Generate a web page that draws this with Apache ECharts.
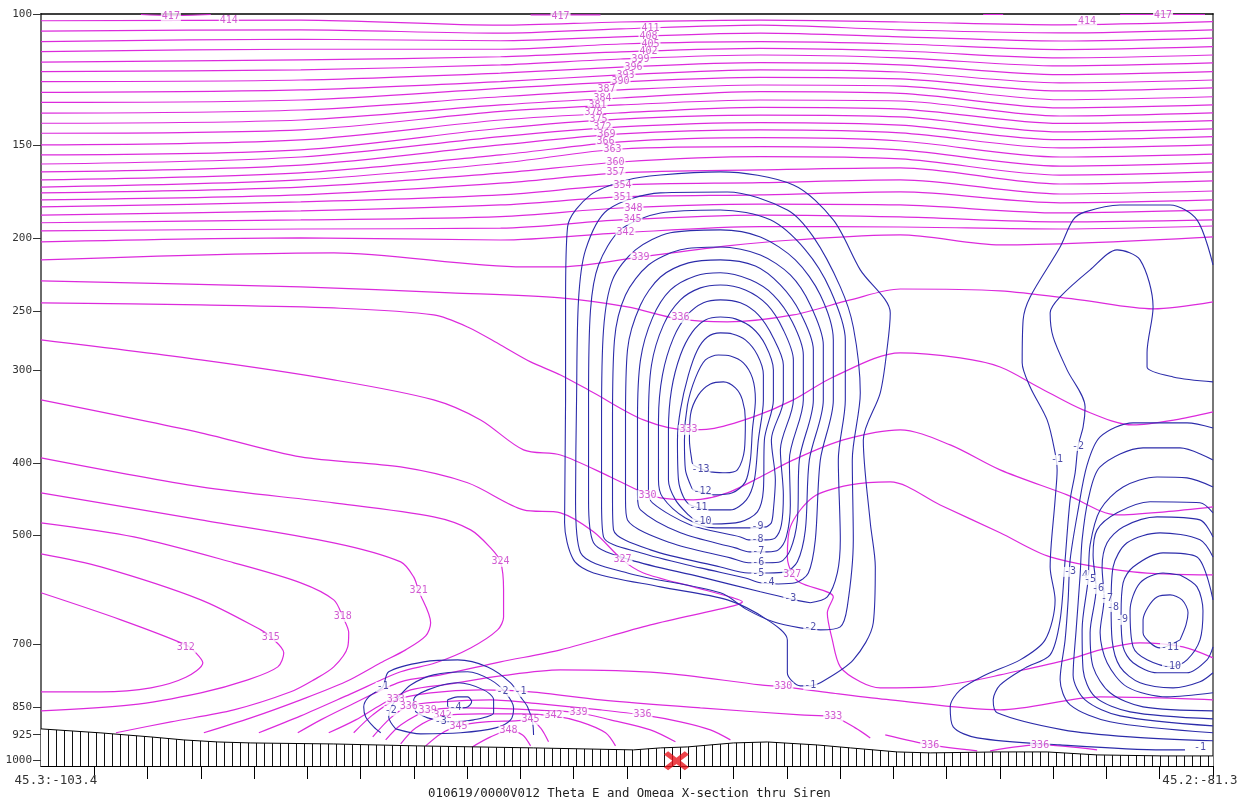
<!DOCTYPE html>
<html><head><meta charset="utf-8">
<script src="https://cdn.jsdelivr.net/npm/echarts@6/dist/echarts.min.js"></script>
<style>html,body{margin:0;padding:0;background:#fff}#c{width:1246px;height:797px}</style>
</head><body><div id="c"></div><script>
// ---------- axes ----------
const xTicks = [1,2,3,4,5,6,7,8,9,10,11,12,13,14,15,16,17,18,19,20,21,22];
const pressureTicks = [100,150,200,250,300,400,500,700,850,925,1000];
const endLabels = ['45.3:-103.4','45.2:-81.3'];
const endLabelPos = [0.281, 21.756];
const titleText = '010619/0000V012 Theta E and Omega X-section thru Siren';

// ---------- terrain (surface pressure, hPa) ----------
const terrainX = [0,1.125,2.063,2.682,3.320,3.939,5.495,7.071,9.246,11.122,11.628,12.135,12.997,13.635,14.573,15.192,16.073,16.692,17.949,18.886,19.824,21.062,22];
const terrainP = [908.7,920,931.6,940.2,946.1,949.0,952.0,957.7,963.6,969.6,963.6,960.7,949.0,946.1,954.9,963.6,975.7,978.6,975.7,975.7,984.7,987.8,987.8];
const siteX = 11.928, siteP = 1002.9;

// ---------- theta-E upper family: pressure at fixed section positions ----------
const topX = [0,4.876,8.627,10.878,13.503,16.129,19.130,22];
const theta414 = [102.1,101.9,103.5,102.5,101.9,102.5,103.4,102.4];
const theta411 = [105.4,105.0,106.1,104.7,103.5,105.0,106.0,105.0];
const theta408 = [108.9,108.1,108.6,107.3,106.1,107.3,108.7,107.7];
const theta405 = [112.3,111.5,111.5,109.7,108.9,109.7,111.6,110.6];
const theta402 = [116.0,115.2,114.1,112.4,111.2,112.1,114.5,113.5];
const theta399 = [119.5,118.8,117.0,114.9,113.5,114.5,117.4,116.3];
const theta396 = [123.2,122.6,120.0,117.8,116.2,117.0,120.6,119.5];
const theta393 = [127.4,126.4,123.2,120.7,118.8,119.6,123.7,122.6];
const theta390 = [131.4,130.4,125.8,123.3,121.6,122.2,126.8,125.6];
const theta387 = [135.8,134.5,129.1,126.4,124.5,124.9,130.3,129.1];
const theta384 = [140.1,138.7,132.4,129.6,127.1,127.8,133.6,132.4];
const theta381 = [144.5,143.0,135.1,132.4,130.4,130.8,137.0,135.7];
const theta378 = [149.8,147.5,138.7,135.7,133.4,134.1,140.2,139.0];
const theta375 = [154.5,152.1,142.3,138.3,136.6,137.4,143.9,142.6];
const theta372 = [158.9,155.5,146.0,141.7,139.8,140.9,147.4,146.0];
const theta369 = [162.8,159.4,149.8,144.8,143.0,144.3,151.2,149.8];
const theta366 = [166.9,163.3,154.5,148.4,146.5,148.0,155.5,154.1];
const theta363 = [170.6,166.9,158.5,151.7,150.6,152.1,159.9,158.3];
const theta360 = [173.7,170.6,163.4,157.9,155.3,156.4,164.4,162.8];
const theta357 = [177.5,174.8,168.6,163.3,161.8,160.8,169.0,167.4];
const theta354 = [181.4,178.6,174.8,169.5,168.3,166.9,174.3,172.7];
const theta351 = [186.0,183.6,180.3,175.9,174.8,173.2,179.1,177.5];
const theta348 = [190.5,188.8,186.9,182.0,179.8,180.3,184.8,183.1];
const theta345 = [195.3,194.2,193.7,188.8,186.0,187.1,190.0,188.8];
const theta342 = [202.1,199.6,200.9,196.5,192.8,193.0,194.2,192.4];

// ---------- theta-E other contours: [position, hPa] ----------
const theta417a = [[1.876,100.15],[2.438,100.5],[3.188,100.15]];
const theta417b = [[9.190,100.3],[10.503,100.3]];
const theta417c = [[17.686,100.15],[18.061,100.15]];
const theta417d = [[20.256,100.15],[21.850,100.15]];
const theta339 = [[0,213.6],[5.495,209.0],[9.058,218.3],[9.752,218.3],[11.253,211.7],[12.884,204.6],[14.122,200.9],[16.129,197.8],[18.004,204.0],[22,199.0]];
const theta336 = [[0,227.9],[4.876,232.2],[7.689,236.5],[9.752,240.2],[11.009,247.0],[11.966,256.3],[12.884,258.7],[14.122,253.2],[15.191,241.7],[16.129,233.7],[18.004,235.1],[19.505,241.7],[20.874,248.5],[22,243.2]];
const theta333 = [[0,243.9],[3.001,245.5],[5.495,247.8],[7.371,253.2],[8.008,262.8],[8.627,277.8],[9.190,292.7],[9.752,304.7],[10.371,322.0],[11.309,350.1],[12.134,361.0],[12.566,360.0],[13.372,346.9],[14.122,329.1],[14.872,306.6],[16.129,284.6],[17.254,289.1],[18.004,297.3],[18.755,317.2],[19.561,339.4],[20.499,355.6],[21.287,350.1],[22,341.5]];
const theta330 = [[0,273.5],[3.001,290.9],[5.495,309.4],[7.371,329.1],[8.252,350.1],[9.058,384.0],[9.752,390.1],[10.690,417.5],[11.196,434.5],[11.628,445.4],[12.247,448.1],[12.884,438.5],[13.503,417.5],[14.122,396.1],[15.060,372.4],[16.129,361.0],[17.067,378.2],[18.004,408.5],[19.261,441.3],[20.199,469.4],[21.099,465.0],[22,458.0]];
const theta327a = [[0,329.1],[3.001,364.3],[4.876,392.5],[6.752,404.8],[8.008,425.1],[9.058,462.2],[9.752,466.4],[10.371,494.6],[10.915,539.3],[11.309,561.5],[12.247,586.2],[12.997,606.5],[13.166,613.9],[12.997,621.7],[11.440,659.2],[9.752,712.0],[8.627,738.8],[7.502,769.2],[6.752,785.8],[5.814,843.9],[5.251,883.7],[4.820,919.7]];
const theta327b = [[22,565.0],[20.499,559.6],[18.942,534.4],[18.004,496.1],[16.879,455.2],[15.941,423.9],[15.191,427.9],[14.497,444.1],[14.066,487.1],[14.010,534.4],[14.103,563.2],[14.254,578.8],[14.872,604.6],[14.760,635.0],[14.854,690.4],[15.004,750.4],[15.379,785.8],[15.754,800.7],[16.692,798.2],[17.573,781.1],[18.004,769.2],[19.261,734.3],[19.880,712.0],[20.630,696.6],[21.437,705.5],[22,729.9]];
const theta324 = [[0,393.7],[3.001,430.6],[5.495,452.2],[7.371,472.3],[8.065,491.6],[8.440,519.7],[8.627,542.6],[8.683,591.6],[8.683,643.1],[8.571,669.4],[8.065,707.7],[7.408,741.0],[6.752,761.9],[5.814,815.7],[4.876,873.0],[4.089,919.7]];
const theta321 = [[0,438.5],[3.001,476.7],[5.495,511.6],[6.752,542.6],[6.995,568.4],[7.089,593.4],[7.314,654.9],[7.221,682.0],[6.845,712.0],[6.377,741.0],[5.720,785.8],[4.876,830.8],[3.939,878.4],[3.057,919.7]];
const theta318 = [[0,481.0],[1.744,502.4],[3.620,544.2],[4.876,578.9],[5.495,610.2],[5.664,643.1],[5.776,675.5],[5.758,705.5],[5.495,750.4],[5.120,781.1],[4.689,810.4],[3.620,856.9],[2.438,889.1],[1.407,919.7]];
const theta315 = [[0,529.5],[1.125,551.2],[3.001,610.2],[4.126,669.4],[4.314,684.1],[4.557,718.5],[4.445,750.4],[3.882,781.1],[3.001,812.9],[1.688,843.9],[0,859.5]];
const theta312 = [[0,597.0],[1.500,649.0],[2.719,701.2],[2.907,718.5],[3.038,741.0],[2.719,775.0],[2.063,800.7],[1.125,810.4],[0,810.4]];
const theta330b = [[5.401,919.7],[5.908,883.7],[6.377,843.9],[6.939,805.6],[7.689,790.9],[8.627,771.6],[9.752,757.3],[11.628,764.2],[13.503,793.4],[13.935,798.2],[14.816,812.9],[15.941,830.8],[18.004,856.9],[19.880,823.3],[21.005,825.8],[22,830.8]];
const theta333b = [[5.870,919.7],[6.227,870.3],[6.658,830.8],[7.314,812.9],[8.252,805.6],[9.190,810.4],[10.503,830.8],[12.378,851.7],[14.254,870.3],[14.872,875.7],[15.285,905.9],[15.566,934.3]];
const theta336b = [[6.227,931.4],[6.564,878.4],[6.902,846.5],[7.502,835.8],[8.440,830.8],[9.377,841.3],[10.503,856.9],[11.290,870.3],[12.003,889.1],[12.566,911.4],[12.941,940.0]];
const theta339b = [[6.470,940.0],[6.752,897.6],[7.258,859.5],[7.877,851.7],[8.815,854.3],[9.565,859.5],[10.090,864.6],[10.690,883.7],[11.440,911.4],[11.909,945.7]];
const theta342b = [[6.752,951.8],[7.033,905.9],[7.539,873.0],[8.252,867.6],[9.002,867.6],[9.621,873.0],[10.128,889.1],[10.597,919.7],[10.784,957.7]];
const theta345b = [[7.221,957.7],[7.502,922.9],[7.839,900.4],[8.346,889.1],[8.908,886.4],[9.190,883.7],[9.377,905.9],[9.527,945.7]];
const theta348b = [[8.065,963.6],[8.440,931.4],[8.777,914.2],[9.040,925.7],[9.190,957.7]];
const theta336c = [[15.848,925.7],[16.692,954.8],[17.573,972.4]];
const theta336d = [[17.817,972.4],[18.755,954.8],[19.824,969.5]];

// ---------- omega contours: centre system ----------
const omegaC1 = [[14.441,795.8],[14.629,788.2],[15.248,734.3],[15.623,654.9],[15.661,551.2],[15.567,481.0],[15.436,372.4],[15.754,322.0],[15.886,279.5],[15.942,251.6],[15.379,220.3],[14.873,188.8],[14.123,169.5],[12.754,162.8],[11.628,164.4],[11.009,166.9],[10.315,174.8],[9.884,193.0],[9.847,241.7],[9.847,329.1],[9.828,481.0],[9.997,539.3],[10.372,561.5],[11.628,586.2],[12.885,610.2],[13.635,649.0],[14.010,690.4],[14.010,764.2],[14.254,795.8],[14.441,795.8]];
const omegaC2 = [[14.629,669.4],[15.004,663.3],[15.135,623.6],[15.248,507.0],[15.229,396.1],[15.379,322.0],[15.248,262.8],[15.004,232.2],[14.498,199.0],[14.010,183.1],[12.885,173.2],[11.628,173.7],[10.634,183.1],[10.222,207.1],[10.090,241.7],[10.053,329.1],[10.034,448.1],[10.128,527.7],[11.009,561.5],[12.754,597.0],[13.260,629.3],[13.748,653.0],[14.254,665.3],[14.629,669.4]];
const omegaC3 = [[14.441,615.7],[14.760,604.6],[14.948,561.5],[15.004,507.0],[14.967,396.1],[15.098,329.1],[15.098,273.5],[14.817,234.4],[14.348,207.1],[13.691,188.8],[12.754,183.1],[11.628,184.8],[10.878,194.7],[10.465,217.0],[10.315,249.3],[10.278,329.1],[10.278,448.1],[10.372,511.6],[11.066,539.3],[12.378,568.4],[13.504,595.2],[14.066,608.3],[14.441,615.7]];
const omegaC4 = [[13.841,580.9],[14.160,578.9],[14.404,561.5],[14.535,507.0],[14.629,396.1],[14.873,329.1],[14.873,273.5],[14.629,238.1],[14.160,213.6],[13.504,199.0],[12.754,194.7],[11.816,196.5],[11.159,207.1],[10.728,227.2],[10.559,265.2],[10.522,350.1],[10.522,448.1],[10.559,502.4],[11.253,527.7],[12.378,552.8],[13.222,570.2],[13.504,578.9],[13.841,580.9]];
const omegaC5 = [[13.654,561.5],[13.973,559.6],[14.198,542.6],[14.348,491.6],[14.423,396.1],[14.685,329.1],[14.685,277.8],[14.441,245.5],[14.066,223.8],[13.504,210.4],[12.754,205.3],[12.003,207.1],[11.403,217.0],[10.972,238.1],[10.765,273.5],[10.728,350.1],[10.728,448.1],[10.747,491.6],[11.441,522.9],[12.754,551.2],[13.279,561.5],[13.654,561.5]];
const omegaC6 = [[13.654,544.2],[13.879,542.6],[14.066,522.9],[14.198,476.7],[14.235,396.1],[14.498,329.1],[14.498,282.1],[14.254,251.6],[13.879,230.8],[13.410,217.7],[12.754,213.6],[12.153,215.6],[11.628,225.2],[11.253,245.5],[11.009,282.1],[10.972,350.1],[10.972,448.1],[11.009,476.7],[11.816,511.6],[12.941,536.0],[13.279,544.2],[13.654,544.2]];
const omegaC7 = [[13.635,526.1],[13.841,522.9],[13.991,502.4],[14.066,455.2],[14.048,396.1],[14.310,329.1],[14.310,286.5],[14.104,258.7],[13.748,238.1],[13.316,227.2],[12.754,222.3],[12.285,224.5],[11.816,234.4],[11.478,255.5],[11.253,290.9],[11.197,350.1],[11.197,441.3],[11.253,462.2],[12.003,496.1],[13.035,519.7],[13.298,526.1],[13.635,526.1]];
const omegaC8 = [[13.616,507.0],[13.785,503.9],[13.898,484.2],[13.935,441.3],[13.879,384.0],[14.123,329.1],[14.123,290.9],[13.935,265.2],[13.635,245.5],[13.222,234.4],[12.754,230.8],[12.378,232.9],[12.003,241.7],[11.685,261.1],[11.460,295.5],[11.403,350.1],[11.403,434.5],[11.478,452.2],[12.191,484.2],[13.129,502.4],[13.279,507.0],[13.616,507.0]];
const omegaC9 = [[13.616,487.1],[13.710,481.0],[13.748,462.2],[13.785,421.3],[13.710,372.4],[13.935,329.1],[13.935,295.5],[13.748,271.8],[13.466,253.2],[13.129,243.9],[12.754,241.7],[12.435,243.9],[12.135,253.2],[11.872,271.8],[11.666,304.7],[11.591,350.1],[11.591,421.3],[11.666,444.1],[12.097,473.8],[12.660,488.6],[13.279,488.6],[13.616,487.1]];
const omegaC10 = [[12.604,482.7],[13.129,479.6],[13.448,465.0],[13.560,434.5],[13.579,372.4],[13.748,329.1],[13.748,300.0],[13.598,277.8],[13.354,263.6],[13.035,256.3],[12.754,254.8],[12.472,257.1],[12.228,266.8],[12.003,286.5],[11.835,319.1],[11.778,361.0],[11.778,421.3],[11.910,448.1],[12.153,469.4],[12.285,476.7],[12.604,482.7]];
const omegaC11 = [[12.528,462.2],[12.941,462.2],[13.241,448.1],[13.391,421.3],[13.466,372.4],[13.560,329.1],[13.560,304.7],[13.448,286.5],[13.222,273.5],[12.979,268.5],[12.754,267.6],[12.510,271.0],[12.322,282.1],[12.153,304.7],[12.003,339.4],[11.947,372.4],[11.966,421.3],[12.060,444.1],[12.191,455.2],[12.528,462.2]];
const omegaC12 = [[12.622,441.3],[12.979,438.5],[13.222,423.9],[13.316,396.1],[13.354,361.0],[13.410,329.1],[13.354,307.5],[13.185,293.5],[12.941,287.4],[12.716,286.5],[12.472,290.9],[12.285,307.5],[12.135,334.3],[12.078,372.4],[12.097,408.5],[12.191,427.9],[12.247,434.5],[12.622,441.3]];
const omegaC13 = [[12.566,411.0],[12.847,412.2],[13.072,408.5],[13.204,384.0],[13.222,350.1],[13.166,329.1],[13.035,317.2],[12.810,311.3],[12.566,313.3],[12.341,324.1],[12.191,344.8],[12.172,372.4],[12.210,393.7],[12.247,402.3],[12.566,411.0]];

// ---------- omega contours: right system ----------
const omegaR1 = [[22,217.0],[21.700,188.8],[21.194,180.3],[20.256,180.3],[19.599,184.2],[19.374,188.8],[19.130,205.3],[18.568,239.5],[18.436,257.1],[18.418,293.5],[18.568,316.2],[18.886,350.1],[19.036,387.5],[19.074,408.5],[19.036,448.1],[18.943,551.2],[19.036,610.2],[18.849,690.4],[18.380,734.3],[17.724,769.2],[17.255,805.6],[17.067,849.1],[17.123,903.1],[17.574,934.3],[19.130,954.8],[21.062,969.5],[21.475,969.5]];
const omegaR2 = [[22,311.3],[21.250,306.6],[20.762,297.3],[20.762,284.6],[20.875,247.0],[20.631,213.6],[20.200,207.1],[19.693,220.3],[19.130,239.5],[18.943,251.6],[18.999,271.0],[19.261,300.0],[19.599,336.4],[19.562,357.8],[19.468,379.4],[19.412,412.2],[19.318,448.1],[19.224,539.3],[19.130,649.0],[18.943,723.2],[18.474,752.7],[18.005,793.4],[17.874,830.8],[17.949,864.6],[19.187,911.4],[20.443,931.4],[22,942.8]];
const omegaR3 = [[22,358.9],[21.512,353.3],[20.500,353.3],[19.881,369.0],[19.637,402.3],[19.468,462.2],[19.318,539.3],[19.281,610.2],[19.224,690.4],[19.130,781.1],[19.318,843.9],[20.068,889.1],[22,919.7]];
const omegaR4 = [[22,396.1],[21.381,381.7],[20.687,381.7],[19.881,404.8],[19.656,448.1],[19.543,507.0],[19.506,565.0],[19.431,669.4],[19.374,769.2],[19.599,830.8],[20.256,873.0],[22,900.4]];
const omegaR5 = [[22,430.6],[21.512,418.7],[20.950,417.5],[20.312,430.6],[19.881,462.2],[19.693,515.0],[19.656,573.6],[19.543,669.4],[19.562,757.3],[19.787,823.3],[20.443,862.1],[22,881.0]];
const omegaR6 = [[22,466.4],[21.756,452.2],[20.818,450.8],[20.200,466.4],[19.824,491.6],[19.749,531.1],[19.806,589.8],[19.693,675.5],[19.749,750.4],[20.068,812.9],[20.687,849.1],[22,859.5]];
const omegaR7 = [[22,502.4],[21.756,476.7],[20.950,472.3],[20.312,487.1],[20.012,511.6],[19.918,551.2],[19.956,606.5],[19.881,675.5],[20.012,741.0],[20.387,798.2],[21.137,823.3],[22,812.9]];
const omegaR8 = [[22,534.4],[21.756,507.0],[21.006,496.1],[20.387,511.6],[20.125,551.2],[20.087,619.8],[20.106,690.4],[20.256,750.4],[20.631,788.2],[21.250,800.7],[21.756,785.8],[22,764.2]];
const omegaR9 = [[22,610.2],[21.700,534.4],[21.062,527.7],[20.500,551.2],[20.312,578.9],[20.274,639.2],[20.312,705.5],[20.500,741.0],[20.950,764.2],[21.512,764.2],[21.887,734.3],[22,705.5]];
const omegaR10 = [[21.381,565.0],[21.700,586.2],[21.812,631.2],[21.756,690.4],[21.512,734.3],[21.231,750.4],[20.762,734.3],[20.500,705.5],[20.443,631.2],[20.631,578.9],[21.062,561.5],[21.381,565.0]];
const omegaR11 = [[21.381,690.4],[21.493,659.2],[21.531,635.0],[21.419,610.2],[21.194,600.9],[20.950,604.6],[20.781,623.6],[20.687,649.0],[20.687,675.5],[20.818,696.6],[21.006,707.7],[21.381,690.4]];

// ---------- omega contours: low-level left system ----------
const omegaL1 = [[6.377,919.7],[6.245,903.1],[6.095,875.7],[6.058,849.1],[6.152,823.3],[6.414,798.2],[6.527,761.9],[7.183,738.8],[7.821,734.3],[8.384,750.4],[8.815,788.2],[9.002,823.3],[9.134,849.1],[9.228,891.8],[9.246,925.7]];
const omegaL2 = [[6.658,908.7],[6.527,875.7],[6.564,851.7],[6.714,823.3],[6.939,793.4],[7.371,769.2],[8.008,761.9],[8.440,781.1],[8.721,812.9],[8.871,851.7],[8.815,883.7],[8.534,905.9],[7.877,919.7],[7.127,922.9],[6.658,908.7]];
const omegaL3 = [[7.033,862.1],[6.996,830.8],[7.258,805.6],[7.821,788.2],[8.309,805.6],[8.496,830.8],[8.496,864.6],[8.121,883.7],[7.690,889.1],[7.258,878.4],[7.033,862.1]];
const omegaL4 = [[7.633,830.8],[7.821,823.3],[8.008,823.3],[8.084,835.8],[8.008,849.1],[7.821,851.7],[7.633,846.5],[7.633,830.8]];

// ---------- contour labels [position, hPa, text] ----------
const thetaLabels = [
 [2.438,100.6,'417'],[9.752,100.9,'417'],[21.062,100.3,'417'],[3.526,101.9,'414'],[19.636,102.2,'414'],
 [11.440,104.7,'411'],[11.403,107.3,'408'],[11.440,109.7,'405'],[11.403,112.4,'402'],[11.253,114.9,'399'],
 [11.122,117.8,'396'],[10.972,120.7,'393'],[10.878,123.3,'390'],[10.615,126.4,'387'],[10.540,129.6,'384'],
 [10.446,132.4,'381'],[10.371,135.7,'378'],[10.465,138.3,'375'],[10.540,141.7,'372'],[10.615,144.8,'369'],
 [10.597,148.4,'366'],[10.728,151.7,'363'],[10.784,157.9,'360'],[10.784,163.3,'357'],[10.915,169.5,'354'],
 [10.915,175.9,'351'],[11.122,182.0,'348'],[11.103,188.8,'345'],[10.971,196.5,'342'],[11.253,211.7,'339'],
 [12.003,255.5,'336'],[12.153,361.0,'333'],[11.384,441.3,'330'],[10.915,539.3,'327'],[8.627,542.6,'324'],
 [7.089,593.4,'321'],[5.664,643.1,'318'],[4.314,684.1,'315'],[2.719,707.7,'312'],
 [14.103,563.2,'327'],[13.935,798.2,'330'],[14.872,875.7,'333'],[6.658,830.8,'333'],[6.902,846.5,'336'],
 [11.290,870.3,'336'],[7.258,859.5,'339'],[10.090,864.6,'339'],[7.539,873.0,'342'],[9.621,873.0,'342'],
 [7.839,900.4,'345'],[9.190,883.7,'345'],[8.777,914.2,'348'],[16.692,954.8,'336'],[18.755,954.8,'336']
];
const omegaLabels = [
 [12.378,407.3,'-13'],[12.416,437.1,'-12'],[12.341,458.0,'-11'],[12.416,479.6,'-10'],[13.448,487.1,'-9'],
 [13.448,507.0,'-8'],[13.466,526.1,'-7'],[13.466,544.2,'-6'],[13.466,561.5,'-5'],[13.654,578.9,'-4'],
 [14.066,606.5,'-3'],[14.441,665.3,'-2'],[14.441,793.4,'-1'],
 [19.074,396.1,'-1'],[19.468,379.4,'-2'],[19.318,559.6,'-3'],[19.599,565.0,'4'],[19.693,573.6,'-5'],
 [19.843,589.8,'-6'],[20.012,606.5,'-7'],[20.125,623.6,'-8'],[20.293,649.0,'-9'],[21.194,707.7,'-11'],
 [21.231,750.4,'-10'],[21.756,963.6,'-1'],
 [6.414,798.2,'-1'],[9.002,810.4,'-1'],[6.564,859.5,'-2'],[8.665,810.4,'-2'],[7.502,889.1,'-3'],[7.783,849.1,'-4']
];

// ---------- build ----------
const MAG = '#dc2adc', MAGTXT = '#c634c6', BLU = '#2c2caa', BLUTXT = '#1e1e94';
const FONT = 'DejaVu Sans Mono';
const series = [];
function addLine(data, color, w, z, smooth) {
  series.push({type:'line', data, smooth: smooth === undefined ? 0.3 : smooth, symbol:'none', showSymbol:false,
    lineStyle:{color, width:w}, itemStyle:{color}, silent:true, z, animation:false, clip:true});
}
const topLines = [theta414,theta411,theta408,theta405,theta402,theta399,theta396,theta393,theta390,theta387,theta384,theta381,theta378,theta375,theta372,theta369,theta366,theta363,theta360,theta357,theta354,theta351,theta348,theta345,theta342];
topLines.forEach(arr => addLine(topX.map((x,i)=>[x,arr[i]]), MAG, 1.2, 2));
[theta417a,theta417b,theta417c,theta417d,theta339,theta336,theta333,theta330,theta327a,theta327b,theta324,theta321,theta318,theta315,theta312,
 theta330b,theta333b,theta336b,theta339b,theta342b,theta345b,theta348b,theta336c,theta336d].forEach(d => addLine(d, MAG, 1.2, 2));
[omegaC1,omegaC2,omegaC3,omegaC4,omegaC5,omegaC6,omegaC7,omegaC8,omegaC9,omegaC10,omegaC11,omegaC12,omegaC13,
 omegaR1,omegaR2,omegaR3,omegaR4,omegaR5,omegaR6,omegaR7,omegaR8,omegaR9,omegaR10,omegaR11,
 omegaL1,omegaL2,omegaL3,omegaL4].forEach(d => addLine(d, BLU, 1.1, 2));

// terrain hatch pattern
const pc = document.createElement('canvas'); pc.width = 8; pc.height = 8;
const g = pc.getContext('2d'); g.fillStyle = '#fff'; g.fillRect(0,0,8,8); g.fillStyle = '#111'; g.fillRect(0,0,1,8);
series.push({type:'line', data: terrainX.map((x,i)=>[x,terrainP[i]]), symbol:'none', silent:true, z:3, animation:false,
  lineStyle:{color:'#000', width:1}, areaStyle:{color:{image:pc, repeat:'repeat'}, origin:'end', opacity:1}});

function labelSeries(arr, color) {
  return {type:'scatter', data: arr.map(a => ({value:[a[0],a[1]], name:a[2]})), symbolSize:1, itemStyle:{color:'rgba(0,0,0,0)'},
    silent:true, z:4, animation:false,
    label:{show:true, position:'inside', formatter:'{b}', color, fontFamily:FONT, fontSize:10, lineHeight:10,
      backgroundColor:'#fff', padding:[0,1,0,1]}};
}
series.push(labelSeries(thetaLabels, MAGTXT));
series.push(labelSeries(omegaLabels, BLUTXT));

series.push({type:'scatter', data:[[siteX, siteP]], clip:false, silent:true, z:6, animation:false,
  symbol:'path://M0,4 L4,0 L12,8 L20,0 L24,4 L16,12 L24,20 L20,24 L12,16 L4,24 L0,20 L8,12 Z',
  symbolSize:[25,19], itemStyle:{color:'#e8141c'}});

const chart = echarts.init(document.getElementById('c'), null, {renderer:'canvas'});
chart.setOption({
  animation:false,
  backgroundColor:'#fff',
  title:{text:titleText, left:423, top:783, textStyle:{fontFamily:FONT, fontSize:12.4, fontWeight:'normal', color:'#222'}},
  grid:{left:41, right:33, top:14, bottom:31, containLabel:false},
  xAxis:[
    {type:'value', min:0, max:22, position:'bottom',
     axisLine:{show:true, onZero:false, lineStyle:{color:'#000', width:1}},
     axisTick:{show:true, inside:false, length:13, customValues:xTicks, lineStyle:{color:'#000', width:1}},
     axisLabel:{show:true, customValues:endLabelPos, formatter:v => (v < 11 ? endLabels[0] : endLabels[1]),
       fontFamily:FONT, fontSize:12.5, color:'#333', margin:8},
     splitLine:{show:false}},
    {type:'value', min:0, max:22, position:'top',
     axisLine:{show:true, onZero:false, lineStyle:{color:'#000', width:1.5}},
     axisTick:{show:false}, axisLabel:{show:false}, splitLine:{show:false}}
  ],
  yAxis:[
    {type:'log', logBase:10, min:100, max:1019, inverse:true, position:'left',
     axisLine:{show:true, onZero:false, lineStyle:{color:'#6a6a6a', width:2}},
     axisTick:{show:true, length:8, customValues:pressureTicks, lineStyle:{color:'#333', width:1}},
     axisLabel:{show:true, customValues:pressureTicks, formatter:v => String(Math.round(v)),
       fontFamily:FONT, fontSize:11, color:'#333', margin:9},
     splitLine:{show:false}, minorTick:{show:false}},
    {type:'log', logBase:10, min:100, max:1019, inverse:true, position:'right',
     axisLine:{show:true, onZero:false, lineStyle:{color:'#777', width:2}},
     axisTick:{show:false}, axisLabel:{show:false}, splitLine:{show:false}}
  ],
  series
});
</script></body></html>
